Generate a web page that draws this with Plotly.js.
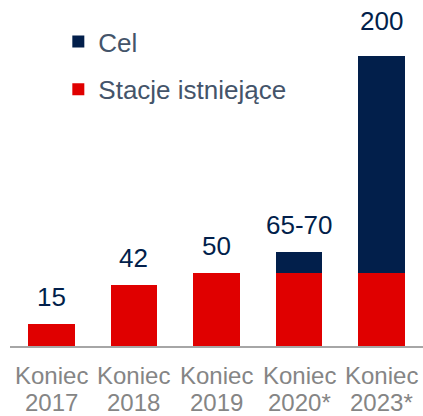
<!DOCTYPE html>
<html>
<head>
<meta charset="utf-8">
<script src="https://cdn.plot.ly/plotly-3.0.1.min.js"></script>
<style>html,body{margin:0;padding:0;background:#fff;}#chart{width:423px;height:416px;}</style>
</head>
<body>
<div id="chart"></div>
<script>
// ---- data ----
const years = ['2017', '2018', '2019', '2020*', '2023*'];
const prefix = 'Koniec';
const existing = [15, 42, 50, 50, 50];      // Stacje istniejące
const target = [0, 0, 0, 15, 150];          // Cel
const valueLabels = ['15', '42', '50', '65-70', '200'];
const seriesNames = ['Stacje istniejące', 'Cel'];

// ---- style ----
const RED = '#E00000';
const NAVY = '#021F4B';
const FONT = 'Liberation Sans, Arial, sans-serif';
const labelLift = [27, 27, 27, 27, 35];

const traces = [
  {type: 'bar', name: seriesNames[0], x: years, y: existing,
   marker: {color: RED, line: {width: 0}}, legendgroup: 'a', legendrank: 2, hoverinfo: 'none'},
  {type: 'bar', name: seriesNames[1], x: years, y: target,
   marker: {color: NAVY, line: {width: 0}}, legendgroup: 'b', legendrank: 1, hoverinfo: 'none'}
];

const annotations = [];
years.forEach((yr, i) => {
  const total = existing[i] + target[i];
  annotations.push({x: i, y: total, xref: 'x', yref: 'y', text: valueLabels[i],
    showarrow: false, yanchor: 'middle', yshift: labelLift[i],
    font: {family: FONT, size: 26, color: NAVY}});
  annotations.push({x: i, y: 0, xref: 'x', yref: 'paper', text: prefix,
    showarrow: false, yanchor: 'middle', yshift: -29,
    font: {family: FONT, size: 24, color: '#858585'}});
  annotations.push({x: i, y: 0, xref: 'x', yref: 'paper', text: yr,
    showarrow: false, yanchor: 'middle', yshift: -56,
    font: {family: FONT, size: 24, color: '#858585'}});
});

const layout = {
  width: 423, height: 416,
  margin: {l: 10, r: 0, t: 0, b: 70},
  paper_bgcolor: '#fff', plot_bgcolor: '#fff',
  barmode: 'stack', bargap: 0.434,
  font: {family: FONT},
  xaxis: {type: 'category', range: [-0.5, 4.5], showline: true, linecolor: '#a6a6a6',
          linewidth: 1.5, ticks: '', showticklabels: false, showgrid: false, zeroline: false,
          fixedrange: true},
  yaxis: {range: [0, 238.6], visible: false, fixedrange: true},
  showlegend: true,
  legend: {x: 0.117, y: 0.948, xanchor: 'left', yanchor: 'top',
           traceorder: 'grouped', tracegroupgap: 11,
           font: {family: FONT, size: 26, color: '#44546A'},
           bgcolor: 'rgba(0,0,0,0)', borderwidth: 0},
  annotations: annotations
};

Plotly.newPlot('chart', traces, layout, {staticPlot: true, displayModeBar: false});
</script>
</body>
</html>
